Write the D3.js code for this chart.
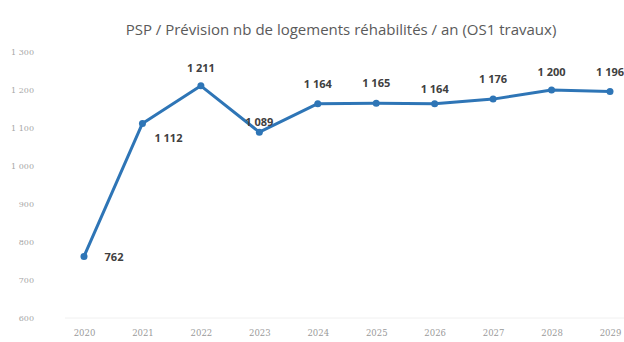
<!DOCTYPE html>
<html lang="fr">
<head>
  <meta charset="UTF-8">
  <title>PSP / Prévision nb de logements réhabilités / an</title>
  <script src="https://d3js.org/d3.v7.min.js"></script>
  <style>
    body { margin: 0; background: #fff; }
  </style>
</head>
<body>
  <svg width="624" height="342"></svg>
  <script>
    // données
    const years = ["2020", "2021", "2022", "2023", "2024", "2025", "2026", "2027", "2028", "2029"];
    const logements = [762, 1112, 1211, 1089, 1164, 1165, 1164, 1176, 1200, 1196];
    const yTicks = [600, 700, 800, 900, 1000, 1100, 1200, 1300];
    const title = "PSP / Prévision nb de logements réhabilités / an (OS1 travaux)";

    const svg = d3.select("svg");
    const fr = d3.formatLocale({ decimal: ",", thousands: "\u00a0", grouping: [3], currency: ["", " €"] });
    const fmt = fr.format(",d");

    const x = d3.scalePoint().domain(years).range([84, 610]);
    const y = d3.scaleLinear().domain([600, 1300]).range([318, 52]);

    // titre
    svg.append("text")
      .attr("x", 341).attr("y", 35)
      .attr("text-anchor", "middle")
      .style("font", "15px 'Open Sans', sans-serif")
      .style("fill", "#5a5a5a")
      .text(title);

    // axe y (labels seulement)
    const yAxis = d3.axisLeft(y).tickValues(yTicks).tickSize(0).tickPadding(0)
      .tickFormat(d => fmt(d));
    const gy = svg.append("g").attr("transform", "translate(34,0)").call(yAxis);
    gy.select(".domain").remove();
    gy.selectAll("text")
      .style("font", "8px 'DejaVu Serif', serif")
      .style("fill", "#a6a6a6");

    // axe x
    const xAxis = d3.axisBottom(x).tickSize(0).tickPadding(12);
    const gx = svg.append("g").attr("transform", "translate(0,318)").call(xAxis);
    gx.select(".domain").attr("stroke", "#f0f0f0").attr("d", "M65,0H625");
    gx.selectAll("text")
      .style("font", "8.5px 'DejaVu Serif', serif")
      .style("fill", "#9a9a9a");

    const pts = years.map((d, i) => ({ year: d, v: logements[i] }));

    // courbe
    svg.append("path")
      .attr("d", d3.line().x(d => x(d.year)).y(d => y(d.v))(pts))
      .attr("fill", "none")
      .attr("stroke", "#2e75b6")
      .attr("stroke-width", 3)
      .attr("stroke-linejoin", "round");

    svg.selectAll("circle.pt")
      .data(pts)
      .enter()
      .append("circle")
      .attr("class", "pt")
      .attr("cx", d => x(d.year))
      .attr("cy", d => y(d.v))
      .attr("r", 3.5)
      .attr("fill", "#2e75b6");

    // étiquettes
    function labelPos(d, i) {
      const px = x(d.year), py = y(d.v);
      if (i === 0) return [px + 30, py + 5];
      if (i === 1) return [px + 26, py + 19];
      if (i === 3) return [px, py - 6];
      if (i === 2 || i === 8) return [px, py - 14];
      if (i === 6) return [px, py - 11];
      return [px, py - 16];
    }
    svg.selectAll("text.lbl")
      .data(pts)
      .enter()
      .append("text")
      .attr("class", "lbl")
      .attr("x", (d, i) => labelPos(d, i)[0])
      .attr("y", (d, i) => labelPos(d, i)[1])
      .attr("text-anchor", "middle")
      .style("font", "bold 11px 'Open Sans', sans-serif")
      .style("fill", "#404040")
      .text(d => fmt(d.v));
  </script>
</body>
</html>
